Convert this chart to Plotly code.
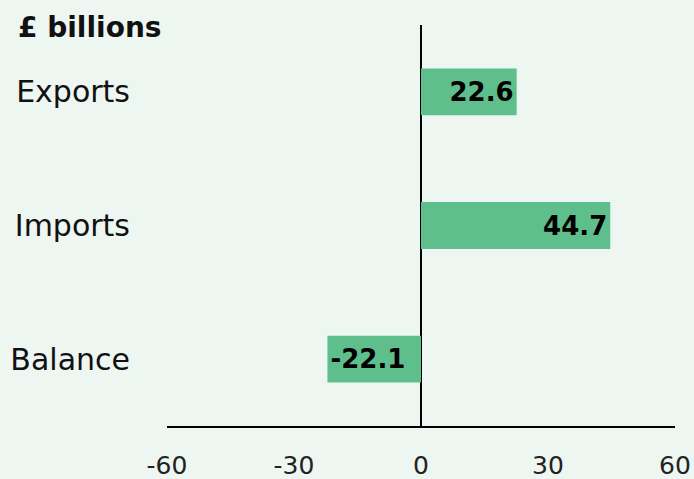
import plotly.graph_objects as go

categories = ["Exports", "Imports", "Balance"]
values = [22.6, 44.7, -22.1]
labels = ["22.6", "44.7", "-22.1"]
tick_vals = [-60, -30, 0, 30, 60]
tick_text = ["-60", "-30", "0", "30", "60"]

BG = "#EDF6F0"
BAR = "#5FBF8C"
FONT = "DejaVu Sans"

fig = go.Figure(go.Bar(
    x=values, y=categories, orientation="h",
    marker=dict(color=BAR, line=dict(width=0)),
    width=0.35,
    text=labels, textposition="inside", insidetextanchor="end",
    textfont=dict(family=FONT, size=26, color="#000000", weight="bold"),
    constraintext="none", cliponaxis=False,
))

W, H = 694, 479
ml, mr, mt, mb = 167, 19, 25, 53

fig.update_layout(
    width=W, height=H,
    margin=dict(l=ml, r=mr, t=mt, b=mb, pad=0, autoexpand=False),
    paper_bgcolor=BG, plot_bgcolor=BG,
    showlegend=False,
    font=dict(family=FONT, color="#111111"),
    xaxis=dict(
        range=[-60, 60], tickvals=tick_vals, ticktext=tick_text,
        showgrid=False, zeroline=True, zerolinecolor="#000000", zerolinewidth=2,
        showline=True, linecolor="#000000", linewidth=2,
        ticks="", ticklabelstandoff=16, automargin=False,
        tickfont=dict(family=FONT, size=25, color="#222222"),
        fixedrange=True,
    ),
    yaxis=dict(
        categoryorder="array", categoryarray=categories, autorange=False,
        range=[2.5, -0.5], showgrid=False, zeroline=False, showline=False,
        ticks="", ticklabelstandoff=36, automargin=False,
        tickfont=dict(family=FONT, size=30, color="#111111"),
        fixedrange=True,
    ),
    annotations=[dict(
        text="<b>£ billions</b>", xref="paper", yref="paper",
        x=(16 - ml) / (W - ml - mr), y=(H - mb - 27) / (H - mt - mb),
        xanchor="left", yanchor="middle", showarrow=False,
        font=dict(family=FONT, size=28, color="#111111"),
    )],
)

fig.write_html(
    "out.html",
    config={"displayModeBar": False},
    post_script="document.body.style.margin='0';document.body.style.overflow='hidden';",
)
